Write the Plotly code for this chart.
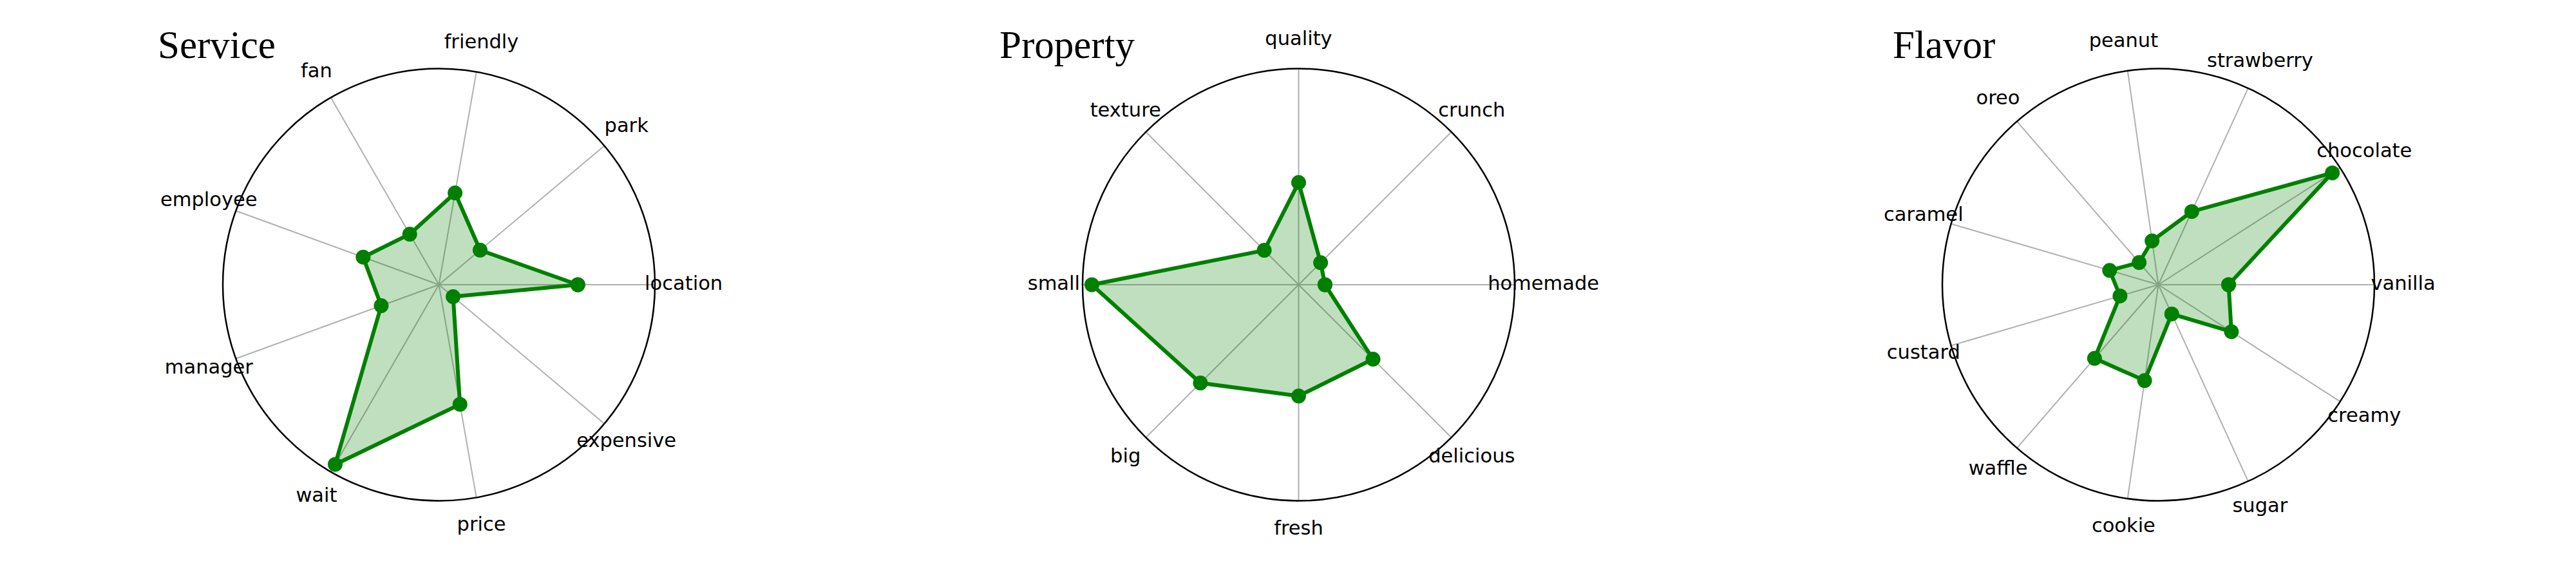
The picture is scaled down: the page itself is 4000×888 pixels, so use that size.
import plotly.graph_objects as go

# ---------------- data ----------------
service_labels = ["location", "park", "friendly", "fan", "employee", "manager", "wait", "price", "expensive"]
service_values = [0.643, 0.249, 0.431, 0.270, 0.373, 0.284, 0.960, 0.562, 0.086]

property_labels = ["homemade", "crunch", "quality", "texture", "small", "big", "fresh", "delicious"]
property_values = [0.122, 0.144, 0.473, 0.225, 0.957, 0.643, 0.515, 0.487]

flavor_labels = ["vanilla", "chocolate", "strawberry", "peanut", "oreo", "caramel", "custard",
                 "waffle", "cookie", "sugar", "creamy"]
flavor_values = [0.325, 0.957, 0.372, 0.205, 0.136, 0.235, 0.185, 0.451, 0.448, 0.149, 0.402]

titles = ["Service", "Property", "Flavor"]
panels = [(service_labels, service_values), (property_labels, property_values), (flavor_labels, flavor_values)]

# ---------------- layout geometry ----------------
W, H = 4000, 888
centers_x = [681.5, 2016.5, 3351.5]
center_y_from_bottom = 446
R = 335.5
LABEL_R = 1.133      # label centre radius (fraction of the outer circle)
OVER_MAX = 1.25      # radial range of the transparent label overlay

fig = go.Figure()
layout_kw = {}
annotations = []


def dom(cx, rad, cy=center_y_from_bottom):
    return dict(x=[(cx - rad) / W, (cx + rad) / W],
                y=[(cy - rad) / H, (cy + rad) / H])


for i, ((labels, values), title) in enumerate(zip(panels, titles)):
    main_id = "polar" if i == 0 else f"polar{2 * i + 1}"
    over_id = f"polar{2 * i + 2}"
    cx = centers_x[i]
    # data polygon
    fig.add_trace(go.Scatterpolar(
        r=values + values[:1],
        theta=labels + labels[:1],
        mode="lines+markers",
        fill="toself",
        fillcolor="rgba(0,128,0,0.25)",
        line=dict(color="green", width=6),
        marker=dict(color="green", size=23),
        subplot=main_id,
        showlegend=False,
        hoverinfo="skip",
    ))
    # category labels on a concentric transparent overlay (matplotlib-like centred placement)
    fig.add_trace(go.Scatterpolar(
        r=[LABEL_R] * len(labels),
        theta=labels,
        mode="text",
        text=labels,
        textposition="middle center",
        textfont=dict(family="DejaVu Sans", size=30.5, color="black"),
        cliponaxis=False,
        subplot=over_id,
        showlegend=False,
        hoverinfo="skip",
    ))
    layout_kw[main_id] = dict(
        domain=dom(cx, R),
        bgcolor="white",
        radialaxis=dict(range=[0, 1], showticklabels=False, ticks="", showline=False,
                        showgrid=False),
        angularaxis=dict(type="category", categoryarray=labels, rotation=0,
                         direction="counterclockwise", showticklabels=False, ticks="",
                         showgrid=True, gridcolor="#b0b0b0", gridwidth=2,
                         showline=True, linecolor="black", linewidth=2.5),
    )
    layout_kw[over_id] = dict(
        domain=dom(cx, R * OVER_MAX),
        bgcolor="rgba(0,0,0,0)",
        radialaxis=dict(range=[0, OVER_MAX], visible=False, showgrid=False),
        angularaxis=dict(type="category", categoryarray=labels, rotation=0,
                         direction="counterclockwise", visible=False, showgrid=False,
                         showline=False),
    )
    annotations.append(dict(
        text=title, x=(cx - 252) / W, y=0.922, xref="paper", yref="paper",
        xanchor="right", yanchor="middle", showarrow=False,
        font=dict(family="Liberation Serif", size=61, color="black"),
    ))

fig.update_layout(
    width=W, height=H,
    margin=dict(l=0, r=0, t=0, b=0),
    paper_bgcolor="white",
    plot_bgcolor="white",
    showlegend=False,
    annotations=annotations,
    **layout_kw,
)

fig.write_html("out.html", config={"displayModeBar": False},
               post_script="document.body.style.margin='0';")
